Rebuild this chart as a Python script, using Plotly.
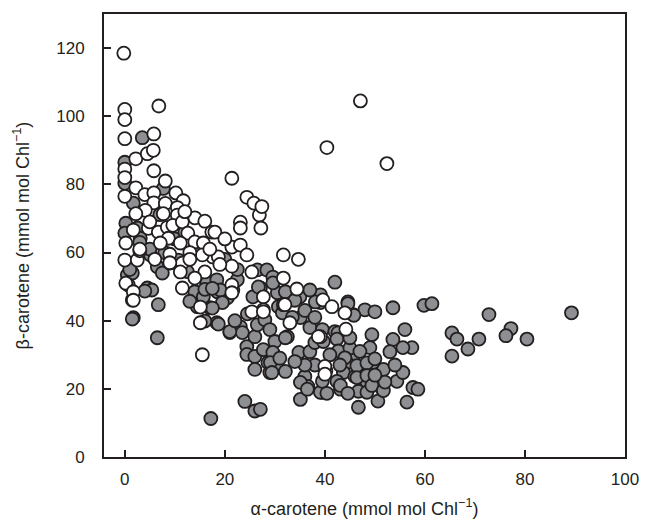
import plotly.graph_objects as go

# Grey (filled) series: alpha-carotene (x), beta-carotene (y)
grey_x = [3.5, 0, 0, 7.7, 1.7, 0.2, 0, 2.5, 3.1, 5.1, 6.5, 7.5, 9, 10.7, 11.1, 0.5, 1.5, 0.7, 1.5, 4.5,
          5.4, 6.7, 1.7, 6.5, 14, 16.4, 18.4, 14.5, 17, 18.4, 21, 23.1, 23.5, 24.4, 26, 26.5, 28, 29, 30, 24.4,
          26, 27.7, 28.6, 29.6, 26, 29, 30.5, 26.5, 28.4, 29.6, 27.1, 25.6, 30.5, 20.5, 21.6, 22.5, 18.5, 15.7,
          17.2, 24, 26, 19.1, 19.5, 21, 30.7, 31.5, 35.1, 37, 39.5, 32.5, 32.1, 34.8, 37, 38, 29.1, 32.1, 29.4,
          36, 36.6, 35.1, 39.5, 35.1, 26.7, 29.6, 32.1, 39.1, 39.1, 42, 38.1, 44.6, 48, 50, 53.6, 59.8, 45.6,
          49.4, 56, 53.6, 53, 57.4, 55.6, 42, 39.7, 45.7, 49, 51.7, 49.6, 44.4, 43.7, 46, 48.4, 46.7, 48.4, 51.5,
          54.4, 55.6, 57.6, 58.6, 56.4, 50.6, 46.7, 43.1, 39.1, 39.5, 36.5, 27.1, 42.4, 44.6, 45.8, 42.6, 42.4,
          42.7, 45, 44, 46.4, 48.4, 50, 46.4, 48.4, 49.4, 51.7, 43.1, 44.6, 40.4, 40.2, 65.4, 66.4, 72.8, 70.8,
          68.6, 65.4, 77.2, 76.2, 80.4, 89.3, 61.4, 14, 12.5, 16, 17.5, 13, 17.5, 18.7, 16, 1, 4, 1.5,
          3, 5, 10, 8, 36, 38, 35, 37, 7, 12, 20, 22.5, 33.5, 34, 24.5, 22,
          41, 43, 47, 45, 38, 36, 34, 31, 52, 54, 50]
grey_y = [93.7, 86.5, 80.3, 78.8, 74.5, 68.6, 65.7, 67.2, 64.2, 59.3, 55.8, 54, 56.9, 57.8, 55.8, 53.4, 54, 50.5, 46.1, 49.6,
          49, 44.7, 40.9, 35, 48.5, 51.1, 52, 44.1, 43.8, 39.4, 36.5, 38.2, 36.5, 32.4, 35.3, 38.8, 40.3, 37.4, 33.9, 30.1,
          29.5, 31.5, 27.7, 30.7, 25.7, 24.8, 26.3, 54.9, 54.9, 52.8, 49.6, 47, 48.2, 46.7, 49, 52, 48.5, 47,
          11.3, 16.3, 13.5, 49, 45.3, 36.8, 44.1, 42.3, 40.9, 38, 37.4, 35.3, 35, 30.7, 30.9, 33.6, 27.7, 25.1, 24.8,
          23.6, 20.7, 21.9, 19, 16.9, 49.9, 51.1, 48.5, 47.6, 45.3, 51.3, 45.5, 45.5, 43.2, 42.6, 43.8, 44.5, 41.8,
          35.9, 37.4, 34.5, 30.9, 32.1, 32.1, 36.8, 33.9, 29.5, 32.1, 25.7, 27.7, 27.7, 24.8, 23.6, 21.9, 19.3, 19, 19.9,
          22.2, 24.8, 20.4, 19.9, 16.1, 16.4, 14.6, 19.9, 19, 22.2, 19.9, 14, 22.2, 45, 41.6, 36.4, 34.6,
          31.1, 32, 29.1, 26.8, 27.6, 28.8, 23.3, 23.9, 21, 19.5, 21, 18.7, 18.7, 25.3, 36.4, 34.6, 41.8, 34.6,
          31.7, 29.6, 37.7, 35.6, 34.6, 42.3, 45, 61.2, 54.4, 49.2, 49.5, 45.7, 43.7, 39, 39.9, 55, 48.7, 40.5,
          63, 61, 64, 60, 43, 41, 47, 49, 71.1, 66, 58, 55, 41, 46, 42, 40,
          30, 27, 31, 35, 27, 27, 28, 29, 22, 27, 24]

# White (open) series
white_x = [-0.2, 0, 0, 0, 0, 0, 0, 0.2, 0, 0.2, 1.7, 1.7, 2.2, 4.5, 5.7, 5.8, 6.8, 5.8, 8.1, 2.2,
           4, 10.2, 11.7, 5.8, 5.8, 8.1, 10.5, 4.1, 2.2, 7.7, 10.5, 14, 16, 17.4, 1.7, 4.7, 6.7, 8.5, 9.6, 11.5,
           12.6, 8.7, 7.1, 11.1, 14, 15.7, 17.6, 15.5, 2.5, 11.5, 11.1, 16, 14, 11.5, 15.1, 15.1, 18.7, 18, 21.4, 24.4,
           25.8, 26.9, 27.2, 23.1, 23.1, 21.4, 23.1, 24.4, 21.4, 25.4, 31.7, 34.7, 31.7, 34.4, 31.7, 27.7, 27.7, 33, 39.6, 41.4,
           44, 44.2, 39.1, 40, 40, 15.5, 21.4, 21.4, 25.4, 27.7, 32, 38.7, 40.4, 47.1, 52.4, 27.4, 19, 13, 3, 9,
           3, 6, 9, 13, 17, 20, 5, 12]
white_y = [118.5, 102, 99, 93.4, 84.5, 82, 76.5, 62.8, 57.8, 51, 48.5, 46, 87.5, 89, 90, 94.8, 103, 84, 81, 79,
           77, 77.5, 75.2, 77.5, 74.6, 74.4, 73.2, 72.4, 71.4, 71.4, 71, 70.2, 69.2, 66, 66.6, 67.1, 66, 67.4, 68, 69,
           65.7, 64.2, 62.8, 62.8, 63.1, 62.8, 58.7, 59.3, 57.8, 56.9, 54.3, 54.3, 52.5, 49.6, 44, 39.4, 58.7, 66, 81.8, 76.2,
           74.5, 71, 67.2, 68.9, 67.2, 61.6, 62.2, 59.3, 56, 54.3, 59.3, 58, 52.5, 49.3, 44.7, 47, 43.2, 39.4, 46.1, 44.1,
           42.3, 37.5, 35.3, 26.6, 24.3, 30, 50.5, 48.2, 42.6, 42.6, 44.7, 35.3, 90.8, 104.5, 86.1, 73.5, 56.5, 60, 60.5, 59.5,
           61, 58, 57, 58, 61, 64, 69, 72]

x_ticks = [0, 20, 40, 60, 80, 100]
y_ticks = [0, 20, 40, 60, 80, 100, 120]

ink = "#231f20"
font_family = "Liberation Sans, Arial, sans-serif"

fig = go.Figure()
fig.add_trace(go.Scatter(x=grey_x, y=grey_y, mode="markers",
                         marker=dict(size=13, color="#8d8f92", line=dict(color=ink, width=1.8)),
                         showlegend=False, hoverinfo="skip"))
fig.add_trace(go.Scatter(x=white_x, y=white_y, mode="markers",
                         marker=dict(size=13, color="#ffffff", line=dict(color=ink, width=1.8)),
                         showlegend=False, hoverinfo="skip"))

axis_common = dict(showline=True, linecolor=ink, linewidth=2, mirror=True, showgrid=False, zeroline=False,
                   ticks="inside", ticklen=7, tickwidth=2, tickcolor=ink,
                   tickfont=dict(family=font_family, size=17, color=ink))

fig.update_xaxes(range=[-4.16, 100], tickvals=x_ticks, ticklabelstandoff=6,
                 title=dict(text="α-carotene (mmol mol Chl<sup>−1</sup>)",
                            font=dict(family=font_family, size=18, color=ink), standoff=14),
                 **axis_common)
fig.update_yaxes(range=[0, 130], tickvals=y_ticks, ticklabelstandoff=14,
                 title=dict(text="β-carotene (mmol mol Chl<sup>−1</sup>)",
                            font=dict(family=font_family, size=18, color=ink), standoff=22),
                 **axis_common)

# page body adds an 8px offset; compensate so the plot frame lands at the reference position
fig.update_layout(width=643, height=521, margin=dict(l=96, r=26, t=4, b=72),
                  plot_bgcolor="white", paper_bgcolor="white")

fig.write_html("out.html")
